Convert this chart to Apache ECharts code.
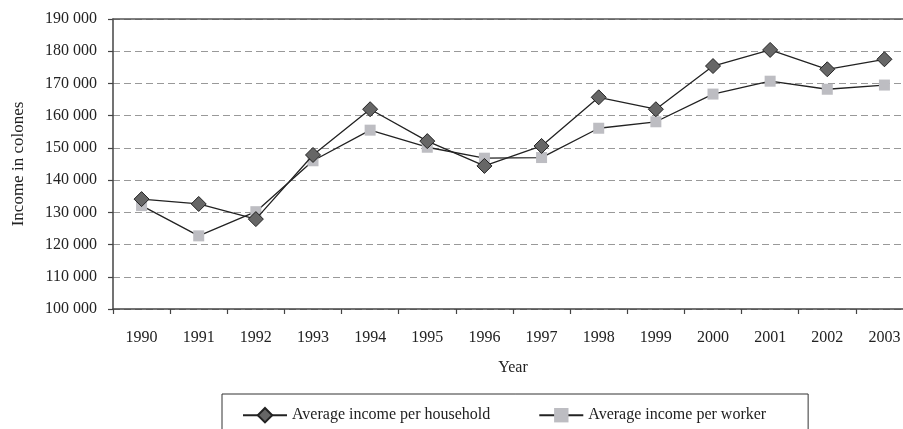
<!DOCTYPE html>
<html>
<head>
<meta charset="utf-8">
<script src="https://cdn.jsdelivr.net/npm/echarts@6/dist/echarts.min.js"></script>
<style>
  html, body { margin: 0; padding: 0; background: #fff; overflow: hidden; }
  /* a little wider than the window: the plot is cut at the right edge in the source */
  #chart { width: 913px; height: 429px; }
</style>
</head>
<body>
<div id="chart"></div>
<script>
const years = ["1990", "1991", "1992", "1993", "1994", "1995", "1996", "1997", "1998", "1999", "2000", "2001", "2002", "2003"];
const perHousehold = [134100, 132600, 127900, 147800, 162000, 152100, 144400, 150600, 165700, 162000, 175400, 180400, 174400, 177500];
const perWorker = [132100, 122700, 130200, 146000, 155500, 150200, 146800, 147000, 156100, 158100, 166700, 170700, 168200, 169500];
const seriesNames = ["Average income per household", "Average income per worker"];

const font = "Liberation Serif";
const ink = "#222";

function spaced(v) {
  return String(v).replace(/\B(?=(\d{3})+(?!\d))/g, " ");
}

const chart = echarts.init(document.getElementById("chart"));
chart.setOption({
  animation: false,
  textStyle: { fontFamily: font, color: ink },
  grid: { left: 113, top: 19, right: 0, bottom: 120 },
  legend: {
    left: 222,
    top: 394,
    padding: [13, 42, 20, 20],
    borderColor: "#333",
    borderWidth: 1,
    itemWidth: 44,
    itemHeight: 18,
    itemGap: 48,
    textStyle: { fontFamily: font, fontSize: 16, color: ink },
    data: seriesNames,
  },
  xAxis: [
    {
      type: "category",
      data: years,
      boundaryGap: true,
      name: "Year",
      nameLocation: "middle",
      nameGap: 51,
      nameTextStyle: { fontFamily: font, fontSize: 16, color: ink },
      axisLine: { lineStyle: { color: "#444", width: 1.5 } },
      axisTick: { show: true, length: 5, lineStyle: { color: "#444", width: 1.2 } },
      axisLabel: { fontFamily: font, fontSize: 16, color: ink, margin: 21 },
    },
    {
      type: "category",
      data: years,
      position: "top",
      z: 5,
      axisLine: { lineStyle: { color: "#555", width: 1.5 } },
      axisTick: { show: false },
      axisLabel: { show: false },
    },
  ],
  yAxis: {
    type: "value",
    min: 100000,
    max: 190000,
    interval: 10000,
    name: "Income in colones",
    nameLocation: "middle",
    nameGap: 86,
    nameTextStyle: { fontFamily: font, fontSize: 17, color: ink },
    axisLine: { show: true, lineStyle: { color: "#444", width: 1.5 } },
    axisTick: { show: true, length: 5, lineStyle: { color: "#444", width: 1.2 } },
    axisLabel: { fontFamily: font, fontSize: 16, color: ink, margin: 16, formatter: spaced },
    splitLine: { show: true, lineStyle: { color: "#999", type: [7, 4], width: 1 } },
  },
  series: [
    {
      name: seriesNames[0],
      type: "line",
      data: perHousehold,
      symbol: "diamond",
      symbolSize: 15,
      z: 3,
      lineStyle: { color: ink, width: 1.3 },
      itemStyle: { color: "#666", borderColor: "#222", borderWidth: 1 },
    },
    {
      name: seriesNames[1],
      type: "line",
      data: perWorker,
      symbol: "rect",
      symbolSize: 11,
      z: 2,
      lineStyle: { color: ink, width: 1.3 },
      itemStyle: { color: "#bdbdc2", borderWidth: 0 },
    },
  ],
});
</script>
</body>
</html>
